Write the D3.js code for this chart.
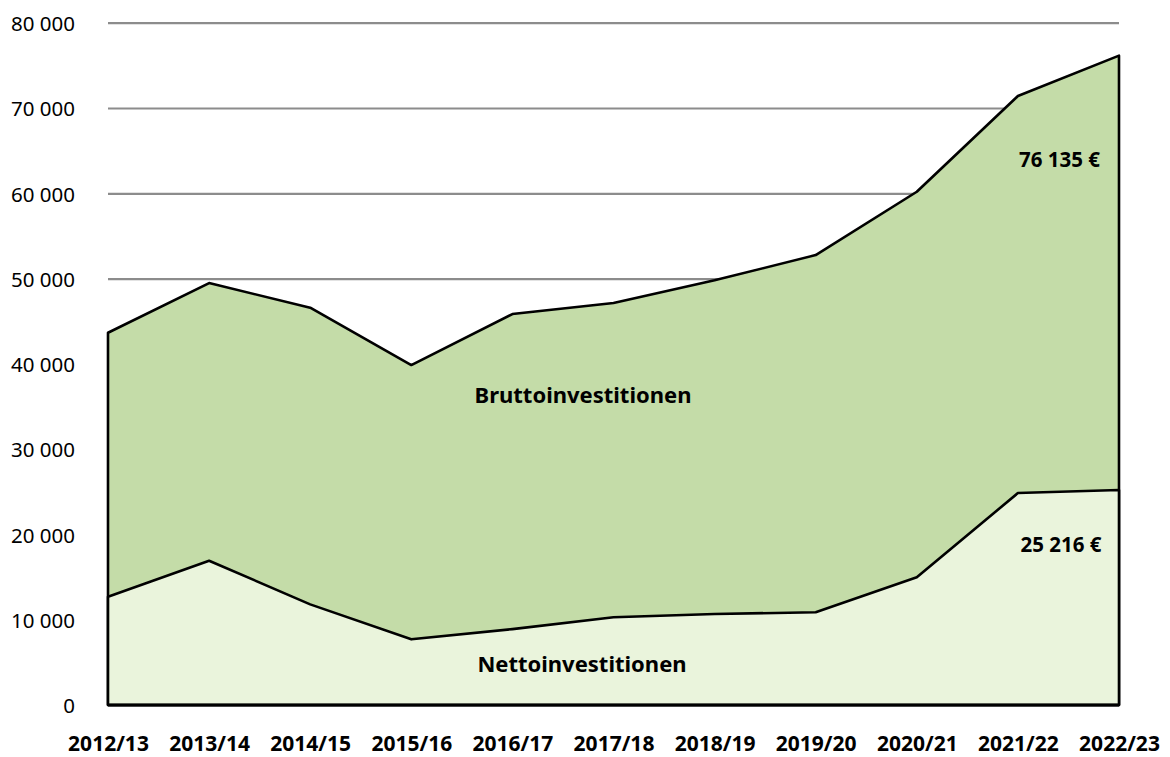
<!DOCTYPE html>
<html>
<head>
<meta charset="utf-8">
<script src="https://cdn.jsdelivr.net/npm/d3@7"></script>
<style>
  body { margin: 0; background: #fff; }
  svg { display: block; font-family: "Noto Sans", sans-serif; }
  .grid line { stroke: #8c8c8c; stroke-width: 2.2; }
  .tick text { fill: #000; }
  .area_label { font-weight: bold; font-size: 22px; text-anchor: middle; }
  .value_label { font-weight: bold; font-size: 20.5px; text-anchor: end; }
</style>
</head>
<body>
<div id="chart"></div>
<script>
var categories = ["2012/13", "2013/14", "2014/15", "2015/16", "2016/17", "2017/18",
                  "2018/19", "2019/20", "2020/21", "2021/22", "2022/23"]
var brutto = [43650, 49470, 46580, 39860, 45840, 47130, 49800, 52750, 60180, 71400, 76135]
var netto = [12700, 16920, 11800, 7700, 8900, 10280, 10670, 10870, 14970, 24850, 25216]
var yTicks = [0, 10000, 20000, 30000, 40000, 50000, 60000, 70000, 80000]

var width = 1170, height = 757
var margin = { left: 108, right: 51, top: 22.7, bottom: 52 }

var svg = d3.select("#chart").append("svg")
  .attr("width", width)
  .attr("height", height)

var x = d3.scalePoint()
  .domain(categories)
  .range([margin.left, width - margin.right])
  .padding(0)

var y = d3.scaleLinear()
  .domain([0, 80000])
  .range([height - margin.bottom, margin.top])

// number format with a space as thousands separator
var fmt = function(v) {
  return d3.format(",")(v).replace(/,/g, " ")
}

// gridlines behind everything
svg.append("g")
  .attr("class", "grid")
  .attr("transform", "translate(" + margin.left + ",0)")
  .call(d3.axisLeft(y).tickValues(yTicks.slice(1)).tickSize(-(width - margin.right - margin.left)).tickFormat(""))
  .call(function(g) { g.select(".domain").remove() })

// y labels
svg.append("g")
  .attr("transform", "translate(75,0)")
  .call(d3.axisLeft(y).tickValues(yTicks).tickSize(0).tickPadding(0).tickFormat(fmt))
  .call(function(g) {
    g.select(".domain").remove()
    g.selectAll("text").attr("font-size", 20.5).attr("font-family", "Noto Sans").attr("dy", "0.38em")
  })

// x labels
svg.append("g")
  .attr("transform", "translate(0," + (height - margin.bottom) + ")")
  .call(d3.axisBottom(x).tickSize(0).tickPadding(31))
  .call(function(g) {
    g.select(".domain").remove()
    g.selectAll("text").attr("font-size", 21).attr("font-weight", "bold").attr("font-family", "Noto Sans")
  })

var area = d3.area()
  .x(function(d, i) { return x(categories[i]) })
  .y0(y(0))
  .y1(function(d) { return y(d) })

svg.append("path")
  .datum(brutto)
  .attr("d", area)
  .attr("fill", "#c4dca8")
  .attr("stroke", "#000")
  .attr("stroke-width", 2.6)
  .attr("stroke-linejoin", "round")

svg.append("path")
  .datum(netto)
  .attr("d", area)
  .attr("fill", "#eaf4dc")
  .attr("stroke", "#000")
  .attr("stroke-width", 2.6)
  .attr("stroke-linejoin", "round")

// baseline
svg.append("line")
  .attr("x1", x(categories[0]))
  .attr("x2", x(categories[categories.length - 1]))
  .attr("y1", y(0))
  .attr("y2", y(0))
  .attr("stroke", "#000")
  .attr("stroke-width", 3.2)

svg.append("text")
  .attr("class", "area_label")
  .attr("x", 583)
  .attr("y", 403)
  .text("Bruttoinvestitionen")

svg.append("text")
  .attr("class", "area_label")
  .attr("x", 582)
  .attr("y", 672)
  .text("Nettoinvestitionen")

var last = categories.length - 1
svg.append("text")
  .attr("class", "value_label")
  .attr("x", 1100)
  .attr("y", 166.5)
  .text(fmt(brutto[last]) + " €")

svg.append("text")
  .attr("class", "value_label")
  .attr("x", 1101.5)
  .attr("y", 551.5)
  .text(fmt(netto[last]) + " €")
</script>
</body>
</html>
